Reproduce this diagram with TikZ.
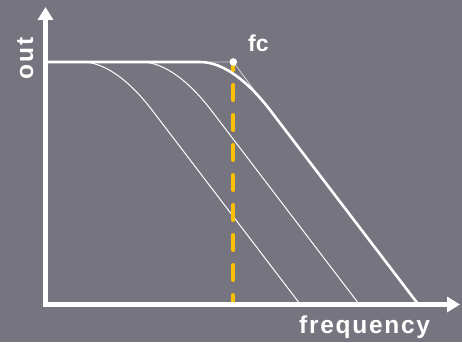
\documentclass[tikz,border=0pt]{standalone}
\usepackage{fontspec}
\setmainfont{Liberation Sans}
\newfontfamily\spacedfont[LetterSpace=7]{Liberation Sans}
\usetikzlibrary{arrows.meta}

\definecolor{panelgray}{RGB}{117,116,127}
\definecolor{cutoffyellow}{RGB}{255,192,0}
\definecolor{guidegray}{RGB}{205,205,212}

\tikzset{
  axisline/.style={white, line width=5pt,
    {Triangle[length=13pt,width=15pt]}-{Triangle[length=13pt,width=15pt]}},
  response/.style={white, line width=2.6pt, line join=round},
  shifted/.style={white, line width=1pt},
  guide/.style={guidegray, line width=0.9pt},
  cutoff/.style={cutoffyellow, line width=4pt, line cap=round,
    dash pattern=on 15pt off 15pt, dash phase=7pt},
  axislabel/.style={text=white, font=\spacedfont\bfseries\fontsize{24.5}{28}\selectfont, inner sep=0pt},
}

\begin{document}
\begin{tikzpicture}[x=1pt,y=-1pt]
\fill[panelgray] (0,0) rectangle (462,342);
\useasboundingbox (0,0) rectangle (462,342);

\coordinate (origin) at (45.5,304.5);
\coordinate (ytip) at (45.5,7);
\coordinate (xtip) at (460,304.5);
\coordinate (fc) at (233.3,62);
\coordinate (fcfoot) at (233.3,304);
\coordinate (knee) at (190,62);
\coordinate (slopejoin) at (263,102);

% asymptotes at the cutoff
\draw[guide] (knee) -- (fc) -- (slopejoin);

% the same response moved to lower cutoffs
\foreach \s in {118,59}
  \draw[shifted, xshift=-\s pt] (200,62) .. controls (225,62) and (250,84) .. (270,110) -- (418,304);

\draw[cutoff] (fc) -- (fcfoot);

\draw[response] (45.5,62) -- (200,62) .. controls (225,62) and (250,84) .. (270,110) -- (418,304);

\draw[axisline] (ytip) |- (xtip);

\fill[white] (fc) circle (3.8pt);

\node[text=white, font=\bfseries\fontsize{23}{26}\selectfont, inner sep=0pt, anchor=base west] (fclabel) at (248,52) {fc};
\node[axislabel, anchor=base west] (xlabel) at (299,333) {frequency};
\node[axislabel, rotate=90, anchor=base] (ylabel) at (33,58.5) {out};
\end{tikzpicture}
\end{document}
